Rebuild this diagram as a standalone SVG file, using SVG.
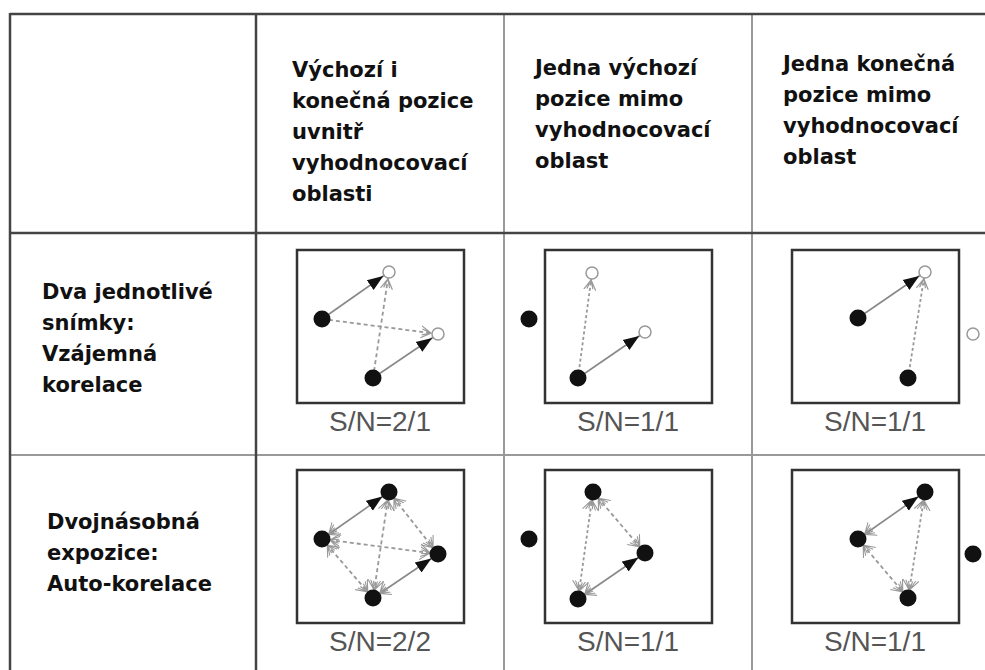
<svg xmlns="http://www.w3.org/2000/svg" width="985" height="670" viewBox="0 0 985 670">
<style>
.bg{fill:#ffffff}
.tdark{stroke:#444;stroke-width:2.5;fill:none}
.tgray{stroke:#999;stroke-width:2;fill:none}
.hd{font-family:"DejaVu Sans","Noto Sans",sans-serif;font-weight:700;font-size:21px;fill:#111}
.sn{font-family:"Liberation Sans",Arial,sans-serif;font-size:28px;fill:#555;text-anchor:middle}
.box{fill:#fff;stroke:#333;stroke-width:2.5}
.dot{fill:#111}
.open{fill:#fff;stroke:#999;stroke-width:1.5}
.solid{stroke:#888;stroke-width:1.6;fill:none}
.dash{stroke:#999;stroke-width:1.8;fill:none;stroke-dasharray:4 3}
.dots{stroke:#999;stroke-width:1.8;fill:none;stroke-dasharray:3 2.5}
</style>
<defs>
<marker id="triO" markerUnits="userSpaceOnUse" viewBox="0 0 26 14" refX="23" refY="7" markerWidth="26" markerHeight="14" orient="auto-start-reverse">
<path d="M0,1 L16,7 L0,13 Z" fill="#111"/>
</marker>
<marker id="triF" markerUnits="userSpaceOnUse" viewBox="0 0 26 14" refX="24" refY="7" markerWidth="26" markerHeight="14" orient="auto-start-reverse">
<path d="M0,1 L16,7 L0,13 Z" fill="#111"/>
</marker>
<marker id="veeO" markerUnits="userSpaceOnUse" viewBox="0 0 20 16" refX="17" refY="8" markerWidth="20" markerHeight="16" orient="auto-start-reverse">
<path d="M0,2 L10,8 L0,14 M1,5 L10,8 L1,11" fill="none" stroke="#999" stroke-width="1.2"/>
</marker>
<marker id="veeF" markerUnits="userSpaceOnUse" viewBox="0 0 20 18" refX="18" refY="9" markerWidth="20" markerHeight="18" orient="auto-start-reverse">
<path d="M0,1 L10,9 L0,17 M0,4 L10,9 L0,14 M1,7 L10,9 L1,11" fill="none" stroke="#999" stroke-width="1.1"/>
</marker>
</defs>
<rect class="bg" x="0" y="0" width="985" height="670"/>

<g id="table">
<line class="tgray" x1="504" y1="14" x2="504" y2="670"/>
<line class="tgray" x1="752" y1="14" x2="752" y2="670"/>
<line class="tgray" x1="10" y1="455" x2="985" y2="455"/>
<line class="tdark" x1="10" y1="14" x2="985" y2="14"/>
<line class="tdark" x1="10" y1="13" x2="10" y2="670"/>
<line class="tdark" x1="256" y1="14" x2="256" y2="670"/>
<line class="tdark" x1="10" y1="233" x2="985" y2="233"/>
</g>

<g id="header-1">
<text class="hd" x="292" y="77">Výchozí i</text>
<text class="hd" x="292" y="108">konečná pozice</text>
<text class="hd" x="292" y="139">uvnitř</text>
<text class="hd" x="292" y="170">vyhodnocovací</text>
<text class="hd" x="292" y="201">oblasti</text>
</g>
<g id="header-2">
<text class="hd" x="535" y="75">Jedna výchozí</text>
<text class="hd" x="535" y="106">pozice mimo</text>
<text class="hd" x="535" y="137">vyhodnocovací</text>
<text class="hd" x="535" y="168">oblast</text>
</g>
<g id="header-3">
<text class="hd" x="783" y="71">Jedna konečná</text>
<text class="hd" x="783" y="102">pozice mimo</text>
<text class="hd" x="783" y="133">vyhodnocovací</text>
<text class="hd" x="783" y="164">oblast</text>
</g>
<g id="row-1">
<text class="hd" x="42" y="299">Dva jednotlivé</text>
<text class="hd" x="42" y="330">snímky:</text>
<text class="hd" x="42" y="361">Vzájemná</text>
<text class="hd" x="42" y="392">korelace</text>
</g>
<g id="row-2">
<text class="hd" x="47" y="529">Dvojnásobná</text>
<text class="hd" x="47" y="560">expozice:</text>
<text class="hd" x="47" y="591">Auto-korelace</text>
</g>

<g id="panels">
<rect class="box" x="297" y="250" width="167" height="153"/>
<rect class="box" x="545" y="250" width="167" height="153"/>
<rect class="box" x="792" y="250" width="167" height="153"/>
<rect class="box" x="297" y="470" width="167" height="153"/>
<rect class="box" x="545" y="470" width="167" height="153"/>
<rect class="box" x="792" y="470" width="167" height="153"/>
<text class="sn" x="380" y="431">S/N=2/1</text>
<text class="sn" x="628" y="431">S/N=1/1</text>
<text class="sn" x="875" y="431">S/N=1/1</text>
<text class="sn" x="380" y="651">S/N=2/2</text>
<text class="sn" x="628" y="651">S/N=1/1</text>
<text class="sn" x="875" y="651">S/N=1/1</text>
</g>

<g id="connectors">
<line class="dash" x1="322" y1="319" x2="438" y2="334" marker-end="url(#veeO)"/>
<line class="dash" x1="373" y1="378" x2="389" y2="272" marker-end="url(#veeO)"/>
<line class="solid" x1="322" y1="319" x2="389" y2="272" marker-end="url(#triO)"/>
<line class="solid" x1="373" y1="378" x2="438" y2="334" marker-end="url(#triO)"/>
<line class="dots" x1="578" y1="378" x2="592" y2="273" marker-end="url(#veeO)"/>
<line class="solid" x1="578" y1="378" x2="645" y2="332" marker-end="url(#triO)"/>
<line class="dots" x1="908" y1="378" x2="925" y2="272" marker-end="url(#veeO)"/>
<line class="solid" x1="858" y1="318" x2="925" y2="272" marker-end="url(#triO)"/>
<line class="dash" x1="322" y1="539" x2="438" y2="554" marker-start="url(#veeF)" marker-end="url(#veeF)"/>
<line class="dash" x1="389" y1="492" x2="373" y2="598" marker-start="url(#veeF)" marker-end="url(#veeF)"/>
<line class="dash" x1="389" y1="492" x2="438" y2="554" marker-start="url(#veeF)" marker-end="url(#veeF)"/>
<line class="dash" x1="322" y1="539" x2="373" y2="598" marker-start="url(#veeF)" marker-end="url(#veeF)"/>
<line class="solid" x1="322" y1="539" x2="389" y2="492" marker-start="url(#veeF)" marker-end="url(#triF)"/>
<line class="solid" x1="373" y1="598" x2="438" y2="554" marker-start="url(#veeF)" marker-end="url(#triF)"/>
<line class="dots" x1="593" y1="492" x2="578" y2="599" marker-start="url(#veeF)" marker-end="url(#veeF)"/>
<line class="dash" x1="593" y1="492" x2="645" y2="553" marker-start="url(#veeF)" marker-end="url(#veeF)"/>
<line class="solid" x1="578" y1="599" x2="645" y2="553" marker-start="url(#veeF)" marker-end="url(#triF)"/>
<line class="dots" x1="925" y1="492" x2="908" y2="598" marker-start="url(#veeF)" marker-end="url(#veeF)"/>
<line class="dash" x1="858" y1="539" x2="908" y2="598" marker-start="url(#veeF)" marker-end="url(#veeF)"/>
<line class="solid" x1="858" y1="539" x2="925" y2="492" marker-start="url(#veeF)" marker-end="url(#triF)"/>
</g>

<g id="nodes">
<g id="r1c1-a"><circle class="dot" cx="322" cy="319" r="8.5"/></g>
<g id="r1c1-b"><circle class="dot" cx="373" cy="378" r="8.5"/></g>
<g id="r1c1-c"><circle class="open" cx="389" cy="272" r="6"/></g>
<g id="r1c1-d"><circle class="open" cx="438" cy="334" r="6"/></g>
<g id="r1c2-a"><circle class="dot" cx="529" cy="319" r="8.5"/></g>
<g id="r1c2-b"><circle class="dot" cx="578" cy="378" r="8.5"/></g>
<g id="r1c2-c"><circle class="open" cx="592" cy="273" r="6"/></g>
<g id="r1c2-d"><circle class="open" cx="645" cy="332" r="6"/></g>
<g id="r1c3-a"><circle class="dot" cx="858" cy="318" r="8.5"/></g>
<g id="r1c3-b"><circle class="dot" cx="908" cy="378" r="8.5"/></g>
<g id="r1c3-c"><circle class="open" cx="925" cy="272" r="6"/></g>
<g id="r1c3-d"><circle class="open" cx="973" cy="334" r="6"/></g>
<g id="r2c1-a"><circle class="dot" cx="389" cy="492" r="8.5"/></g>
<g id="r2c1-b"><circle class="dot" cx="322" cy="539" r="8.5"/></g>
<g id="r2c1-c"><circle class="dot" cx="438" cy="554" r="8.5"/></g>
<g id="r2c1-d"><circle class="dot" cx="373" cy="598" r="8.5"/></g>
<g id="r2c2-a"><circle class="dot" cx="529" cy="539" r="8.5"/></g>
<g id="r2c2-b"><circle class="dot" cx="593" cy="492" r="8.5"/></g>
<g id="r2c2-c"><circle class="dot" cx="645" cy="553" r="8.5"/></g>
<g id="r2c2-d"><circle class="dot" cx="578" cy="599" r="8.5"/></g>
<g id="r2c3-a"><circle class="dot" cx="925" cy="492" r="8.5"/></g>
<g id="r2c3-b"><circle class="dot" cx="858" cy="539" r="8.5"/></g>
<g id="r2c3-c"><circle class="dot" cx="908" cy="598" r="8.5"/></g>
<g id="r2c3-d"><circle class="dot" cx="973" cy="554" r="8.5"/></g>
</g>
</svg>
